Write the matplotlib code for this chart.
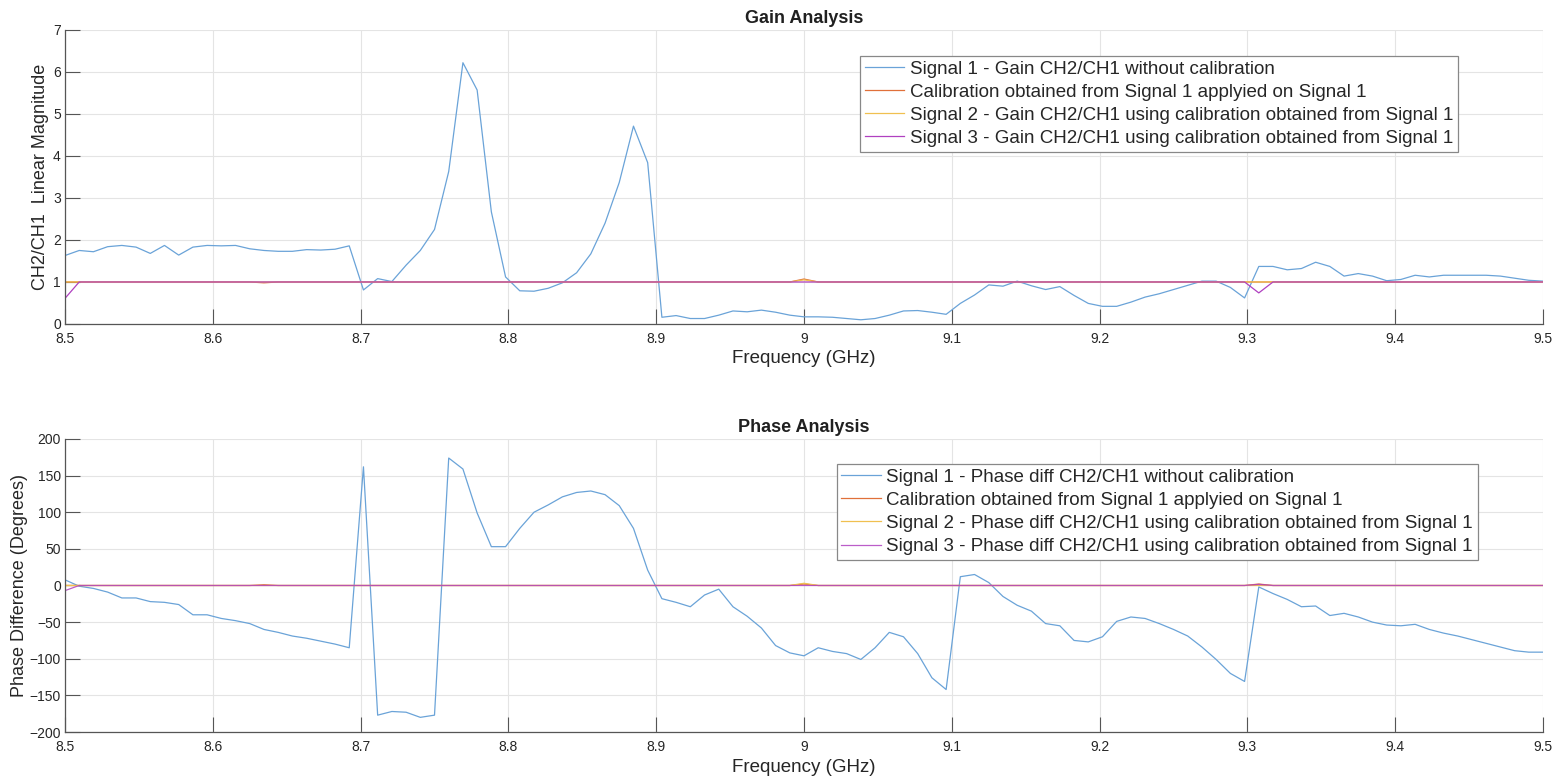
import numpy as np
import matplotlib
matplotlib.use("Agg")
from matplotlib import pyplot as plt

plt.rcParams['font.family'] = ['Liberation Sans', 'DejaVu Sans']

# Frequency grid (GHz), 105 points from 8.5 to 9.5
freq = np.linspace(8.5, 9.5, 105)

# Gain CH2/CH1 - signal 1 without calibration
gain_sig1 = [1.63, 1.75, 1.72, 1.84, 1.87, 1.83, 1.68, 1.87, 1.64, 1.83,
             1.87, 1.86, 1.87, 1.79, 1.75, 1.73, 1.73, 1.77, 1.76, 1.78,
             1.86, 0.81, 1.08, 1.01, 1.40, 1.75, 2.25, 3.63, 6.22, 5.57,
             2.67, 1.12, 0.79, 0.78, 0.85, 0.98, 1.22, 1.67, 2.40, 3.37,
             4.71, 3.84, 0.16, 0.20, 0.13, 0.13, 0.21, 0.31, 0.29, 0.33,
             0.28, 0.21, 0.17, 0.17, 0.16, 0.13, 0.10, 0.13, 0.21, 0.31,
             0.32, 0.28, 0.23, 0.49, 0.69, 0.93, 0.90, 1.02, 0.91, 0.82,
             0.89, 0.68, 0.49, 0.42, 0.42, 0.52, 0.64, 0.72, 0.82, 0.92,
             1.02, 1.02, 0.87, 0.62, 1.37, 1.37, 1.29, 1.32, 1.47, 1.37,
             1.14, 1.20, 1.14, 1.03, 1.06, 1.16, 1.12, 1.16, 1.16, 1.16,
             1.16, 1.14, 1.09, 1.04, 1.02]

# calibrated gains: flat at 1 with a few small deviations
gain_cal = [1.0] * 105
gain_cal[14] = 0.98
gain_cal[52] = 1.07
gain_sig2 = [1.0] * 105
gain_sig2[52] = 1.05
gain_sig3 = [1.0] * 105
gain_sig3[0] = 0.61
gain_sig3[84] = 0.74

# Phase difference CH2/CH1 (degrees) - signal 1 without calibration
phase_sig1 = [7.7, -1, -4, -9, -17, -17, -22, -23, -26, -40,
              -40, -45, -48, -52, -60, -64, -69, -72, -76, -80,
              -85, 162, -177, -172, -173, -180, -177, 174, 159, 99,
              53, 53, 78, 100, 110, 121, 127, 129, 124, 109,
              78, 21, -18, -23, -29, -13, -5, -29, -42, -58,
              -82, -92, -96, -85, -90, -93, -101, -85, -64, -70,
              -93, -126, -142, 12, 15, 4, -15, -27, -35, -52,
              -55, -75, -77, -70, -49, -43, -45, -52, -60, -69,
              -84, -101, -120, -131, -2, -11, -19, -29, -28, -41,
              -38, -43, -50, -54, -55, -53, -60, -65, -69, -74,
              -79, -84, -89, -91, -91]

phase_cal = [0.0] * 105
phase_cal[14] = 1.0
phase_cal[52] = 2.0
phase_cal[84] = 2.0
phase_sig2 = [0.0] * 105
phase_sig2[52] = 3.0
phase_sig3 = [0.0] * 105
phase_sig3[0] = -7.0
phase_sig3[84] = 1.5

gain_labels = ["Signal 1 - Gain CH2/CH1 without calibration",
               "Calibration obtained from Signal 1 applyied on Signal 1",
               "Signal 2 - Gain CH2/CH1 using calibration obtained from Signal 1",
               "Signal 3 - Gain CH2/CH1 using calibration obtained from Signal 1"]
phase_labels = ["Signal 1 - Phase diff CH2/CH1 without calibration",
                "Calibration obtained from Signal 1 applyied on Signal 1",
                "Signal 2 - Phase diff CH2/CH1 using calibration obtained from Signal 1",
                "Signal 3 - Phase diff CH2/CH1 using calibration obtained from Signal 1"]

colors = ['#6aa3d8', '#e0703a', '#f0c050', '#b040c0']
tick_col = '#262626'

fig = plt.figure(figsize=(15.55, 7.76), dpi=100)
ax1 = fig.add_axes([0.0418, 0.5825, 0.9505, 0.3789])
ax2 = fig.add_axes([0.0418, 0.0567, 0.9505, 0.3776])


def style(ax):
    ax.grid(True, color='#e4e4e4', linewidth=0.8)
    ax.set_axisbelow(True)
    ax.set_xlim(8.5, 9.5)
    ax.set_xticks(np.arange(8.5, 9.51, 0.1))
    ax.set_xticklabels(['8.5', '8.6', '8.7', '8.8', '8.9', '9', '9.1', '9.2', '9.3', '9.4', '9.5'])
    ax.tick_params(direction='in', length=11, width=0.8, colors='#555555',
                   labelcolor=tick_col, labelsize=10)
    ax.tick_params(axis='x', pad=6)
    ax.tick_params(axis='y', pad=3)
    for s in ['top', 'right']:
        ax.spines[s].set_visible(False)
    for s in ['left', 'bottom']:
        ax.spines[s].set_color('#555555')
        ax.spines[s].set_linewidth(0.9)
    ax.set_xlabel('Frequency (GHz)', fontsize=13.5, color=tick_col, labelpad=3)


def legend(ax, anchor):
    leg = ax.legend(loc='upper left', bbox_to_anchor=anchor, fontsize=13.5,
                    frameon=True, fancybox=False, edgecolor='#888888', framealpha=1,
                    handlelength=2.1, handletextpad=0.3, labelspacing=0.32,
                    borderpad=0.25, borderaxespad=0)
    leg.get_frame().set_linewidth(0.9)
    for t in leg.get_texts():
        t.set_color(tick_col)


# Gain
ax1.plot(freq, gain_sig1, color=colors[0], lw=0.9, label=gain_labels[0])
ax1.plot(freq, gain_cal, color=colors[1], lw=0.9, label=gain_labels[1])
ax1.plot(freq, gain_sig2, color=colors[2], lw=0.9, label=gain_labels[2])
ax1.plot(freq, gain_sig3, color=colors[3], lw=0.9, label=gain_labels[3])
style(ax1)
ax1.set_ylim(0, 7)
ax1.set_yticks(range(0, 8))
ax1.set_ylabel('CH2/CH1  Linear Magnitude', fontsize=13, color=tick_col, labelpad=3)
ax1.set_title('Gain Analysis', fontsize=13, fontweight='bold', color='#202020', pad=5)
legend(ax1, (0.538, 0.912))

# Phase
ax2.plot(freq, phase_sig1, color=colors[0], lw=0.9, label=phase_labels[0])
ax2.plot(freq, phase_cal, color=colors[1], lw=0.9, label=phase_labels[1])
ax2.plot(freq, phase_sig2, color=colors[2], lw=0.9, label=phase_labels[2])
ax2.plot(freq, phase_sig3, color=colors[3], lw=0.9, alpha=0.85, label=phase_labels[3])
style(ax2)
ax2.set_ylim(-200, 200)
ax2.set_yticks(range(-200, 201, 50))
ax2.set_ylabel('Phase Difference (Degrees)', fontsize=13, color=tick_col, labelpad=1)
ax2.set_title('Phase Analysis', fontsize=13, fontweight='bold', color='#202020', pad=5)
legend(ax2, (0.522, 0.915))

fig.savefig('out.png', dpi=100)
